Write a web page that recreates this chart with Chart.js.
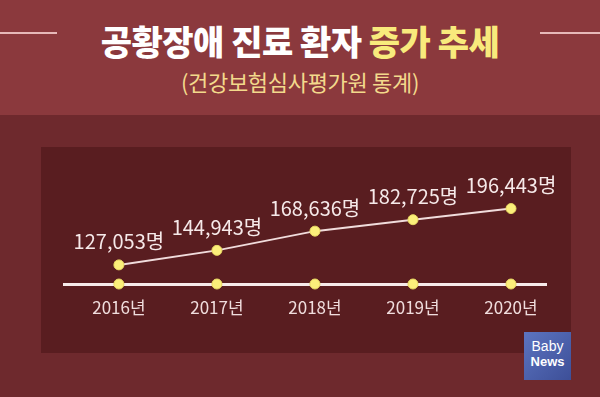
<!DOCTYPE html>
<html>
<head>
<meta charset="utf-8">
<script src="https://cdn.jsdelivr.net/npm/chart.js@4/dist/chart.umd.min.js"></script>
<style>
  html, body { margin: 0; padding: 0; }
  body { width: 600px; height: 397px; background: #6e292d; position: relative; overflow: hidden;
         font-family: "Noto Sans CJK KR", "Noto Sans", sans-serif; }
  .top { position: absolute; left: 0; top: 0; width: 600px; height: 115px; background: #8b393d; }
  .rule { position: absolute; top: 32px; height: 2px; background: #e7b9b9; }
  .title { position: absolute; left: 0; top: 15px; width: 600px; text-align: center;
           font-size: 34px; font-weight: 900; color: #ffffff; line-height: 52px; letter-spacing: -0.5px; }
  .title span { color: #f8ea7c; }
  .sub { position: absolute; left: 0; top: 65px; width: 600px; text-align: center;
         font-size: 22px; color: #f3d98c; line-height: 32px; letter-spacing: -0.3px; }
  .panel { position: absolute; left: 41px; top: 147px; width: 530px; height: 206px; background: #591d20; }
  .logo { position: absolute; left: 524px; top: 332px; width: 47px; height: 48px;
          background: linear-gradient(135deg, #5c74c0, #3d4f98); color: #fff; text-align: center;
          font-family: "Liberation Sans", sans-serif; }
  .logo .b { font-size: 14px; line-height: 16px; margin-top: 6px; }
  .logo .n { font-size: 13px; font-weight: bold; line-height: 16px; }
</style>
</head>
<body>
<div class="top"></div>
<div class="rule" style="left:0;width:57px"></div>
<div class="rule" style="left:540px;width:60px"></div>
<div class="title">공황장애 진료 환자 <span>증가 추세</span></div>
<div class="sub">(건강보험심사평가원 통계)</div>
<div class="panel"><canvas id="myChart" width="530" height="206"></canvas></div>
<div class="logo"><div class="b">Baby</div><div class="n">News</div></div>
<script>
// data
const years = [2016, 2017, 2018, 2019, 2020];
const yearLabels = ["2016년", "2017년", "2018년", "2019년", "2020년"];
const patients = [127053, 144943, 168636, 182725, 196443];
const valueLabels = ["127,053명", "144,943명", "168,636명", "182,725명", "196,443명"];

const yMin = 103500;
const yMax = 260000;

const pointLabels = {
    id: "pointLabels",
    afterDatasetsDraw(chart) {
        const ctx = chart.ctx;
        const meta = chart.getDatasetMeta(0);
        ctx.save();
        ctx.font = '20px "Noto Sans CJK KR"';
        ctx.fillStyle = "#f6e9e9";
        ctx.textAlign = "center";
        ctx.textBaseline = "middle";
        meta.data.forEach((pt, i) => {
            ctx.fillText(valueLabels[i], pt.x, pt.y - 23);
        });
        ctx.restore();
    }
};

const myChartRef = document.getElementById("myChart").getContext("2d");

new Chart(myChartRef, {
    type: "line",
    data: {
        datasets: [
            {
                label: "환자 수",
                data: years.map((y, i) => ({ x: y, y: patients[i] })),
                borderColor: "#f1dcdc",
                borderWidth: 2,
                pointRadius: 5,
                pointBackgroundColor: "#fbef7a",
                pointBorderColor: "#e9d964",
                pointBorderWidth: 1,
                clip: false
            },
            {
                label: "base",
                data: years.map(y => ({ x: y, y: yMin })),
                showLine: false,
                pointRadius: 5,
                pointBackgroundColor: "#fbef7a",
                pointBorderColor: "#e9d964",
                pointBorderWidth: 1,
                clip: false
            }
        ]
    },
    options: {
        responsive: false,
        animation: false,
        layout: { padding: { left: 23, right: 25, top: 10, bottom: 0 } },
        plugins: { legend: { display: false }, tooltip: { enabled: false } },
        scales: {
            x: {
                type: "linear",
                min: 2015.44,
                max: 2020.357,
                afterBuildTicks: s => { s.ticks = years.map(v => ({ value: v })); },
                afterFit: s => { s.height = 69; },
                grid: { display: false, drawTicks: false },
                border: { display: true, color: "#f7eaea", width: 3 },
                ticks: {
                    padding: 13,
                    color: "#f0dddd",
                    font: { size: 17, family: "Noto Sans CJK KR" },
                    callback: v => yearLabels[years.indexOf(v)]
                }
            },
            y: {
                min: yMin,
                max: yMax,
                display: false
            }
        }
    },
    plugins: [pointLabels]
});
</script>
</body>
</html>
